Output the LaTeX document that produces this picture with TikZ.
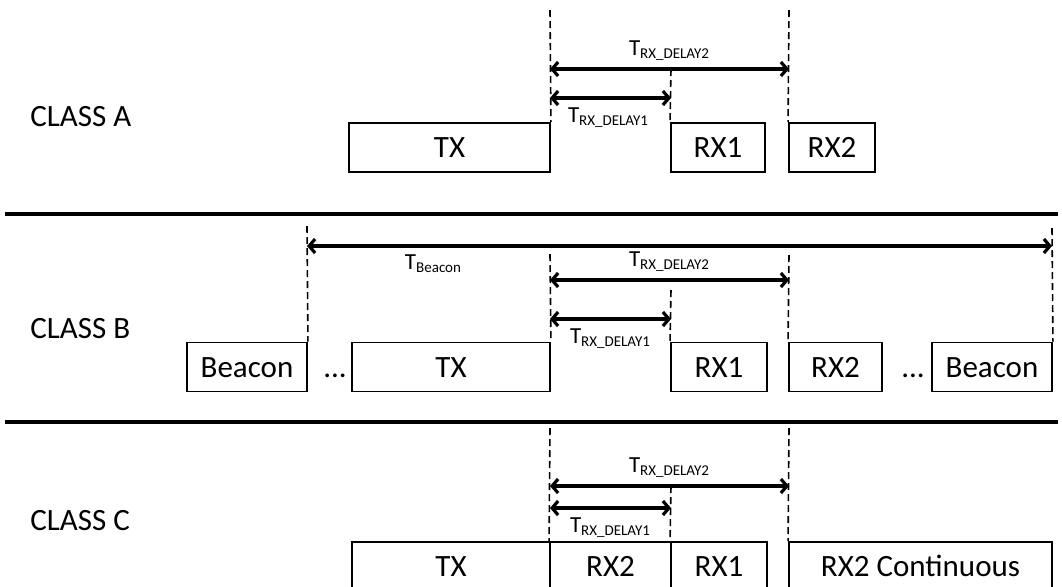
\documentclass[tikz,border=0pt]{standalone}
\usepackage{fontspec}
\setmainfont{Carlito}
\usetikzlibrary{arrows.meta}
\newcommand{\tsym}[1]{T\raisebox{-1.5pt}{\fontsize{7.5}{8}\selectfont #1}}

\begin{document}
\begin{tikzpicture}[x=0.5pt,y=-0.5pt,
  slot/.style={draw,line width=0.95pt,minimum height=24.5pt,inner sep=0pt,text height=10pt,text depth=0pt,font=\fontsize{15.5}{18}\selectfont},
  cls/.style={anchor=west,inner sep=0pt,font=\fontsize{15.5}{18}\selectfont},
  gap/.style={anchor=base,inner sep=0pt,font=\fontsize{15.5}{18}\selectfont},
  guide/.style={line width=0.8pt,dash pattern=on 3.5pt off 2pt},
  delay/.style={{Straight Barb[length=3pt,width=7pt]}-{Straight Barb[length=3pt,width=7pt]},line width=1.6pt},
  divider/.style={line width=2pt},
  lbl/.style={inner sep=0pt,font=\fontsize{11.5}{13}\selectfont}]
  \useasboundingbox (0,0) rectangle (1062,586);
  \clip (0,0) rectangle (1062,586);
  % Class A
  \node[cls] (clsA) at (30,117) {CLASS A};
  \node[slot,minimum width=100.5pt] (atx) at (449.5,147.5) {TX};
  \node[slot,minimum width=47pt] (arx1) at (718,147.5) {RX1};
  \node[slot,minimum width=43pt] (arx2) at (832,147.5) {RX2};
  \coordinate (atop1) at (550,10);
  \coordinate (atop2) at (789,10);
  \coordinate (ad2l) at (550,69);
  \coordinate (ad2r) at (789,69);
  \coordinate (ad1l) at (550,98);
  \coordinate (ad1r) at (671,98);
  \coordinate (atop3) at (671,69);
  \draw[guide] (atop1) -- (atx.north east);
  \draw[guide] (atop2) -- (arx2.north west);
  \draw[guide] (atop3) -- (arx1.north west);
  \draw[delay] (ad2l) -- (ad2r);
  \draw[delay] (ad1l) -- (ad1r);
  \node[lbl] (aD2) at (669,51) {\tsym{RX\_DELAY2}};
  \node[lbl] (aD1) at (608,118) {\tsym{RX\_DELAY1}};
  % divider
  \coordinate (s1l) at (5,214);
  \coordinate (s1r) at (1058,214);
  \draw[divider] (s1l) -- (s1r);
  % Class B
  \node[cls] (clsB) at (30,329) {CLASS B};
  \node[slot,minimum width=60pt] (bbe1) at (247,367) {Beacon};
  \node[gap] (bdot1) at (335,377) {...};
  \node[slot,minimum width=99pt] (btx) at (451,367) {TX};
  \node[slot,minimum width=48pt] (brx1) at (719,367) {RX1};
  \node[slot,minimum width=46.5pt] (brx2) at (835.5,367) {RX2};
  \node[gap] (bdot2) at (913,377) {...};
  \node[slot,minimum width=60pt] (bbe2) at (992,367) {Beacon};
  \coordinate (btop1) at (307,226);
  \coordinate (btop2) at (1052,228);
  \coordinate (btop3) at (550,254);
  \coordinate (btop4) at (789,255);
  \coordinate (btop5) at (671,290);
  \draw[guide] (btop1) -- (bbe1.north east);
  \draw[guide] (btop2) -- (bbe2.north east);
  \draw[guide] (btop3) -- (btx.north east);
  \draw[guide] (btop4) -- (brx2.north west);
  \draw[guide] (btop5) -- (brx1.north west);
  \coordinate (bbl) at (307,246);
  \coordinate (bbr) at (1052,246);
  \coordinate (bd2l) at (550,280);
  \coordinate (bd2r) at (789,280);
  \coordinate (bd1l) at (550,319);
  \coordinate (bd1r) at (671,319);
  \draw[delay] (bbl) -- (bbr);
  \draw[delay] (bd2l) -- (bd2r);
  \draw[delay] (bd1l) -- (bd1r);
  \node[lbl] (bBc) at (433,264) {\tsym{Beacon}};
  \node[lbl] (bD2) at (669,262) {\tsym{RX\_DELAY2}};
  \node[lbl] (bD1) at (610,339) {\tsym{RX\_DELAY1}};
  % divider
  \coordinate (s2l) at (5,422);
  \coordinate (s2r) at (1058,422);
  \draw[divider] (s2l) -- (s2r);
  % Class C
  \node[cls] (clsC) at (30,521) {CLASS C};
  \node[slot,minimum width=99pt] (ctx) at (451,566.5) {TX};
  \node[slot,minimum width=60.5pt] (crx2) at (610.5,566.5) {RX2};
  \node[slot,minimum width=48pt] (crx1) at (719,566.5) {RX1};
  \node[slot,minimum width=131.5pt] (crx2c) at (920.5,566.5) {RX2 Continuous};
  \coordinate (ctop1) at (550,428);
  \coordinate (ctop2) at (789,428);
  \coordinate (ctop3) at (671,486);
  \draw[guide] (ctop1) -- (crx2.north west);
  \draw[guide] (ctop2) -- (crx2c.north west);
  \draw[guide] (ctop3) -- (crx1.north west);
  \coordinate (cd2l) at (550,486);
  \coordinate (cd2r) at (789,486);
  \coordinate (cd1l) at (550,508);
  \coordinate (cd1r) at (671,508);
  \draw[delay] (cd2l) -- (cd2r);
  \draw[delay] (cd1l) -- (cd1r);
  \node[lbl] (cD2) at (669,468) {\tsym{RX\_DELAY2}};
  \node[lbl] (cD1) at (610,528) {\tsym{RX\_DELAY1}};
\end{tikzpicture}
\end{document}
